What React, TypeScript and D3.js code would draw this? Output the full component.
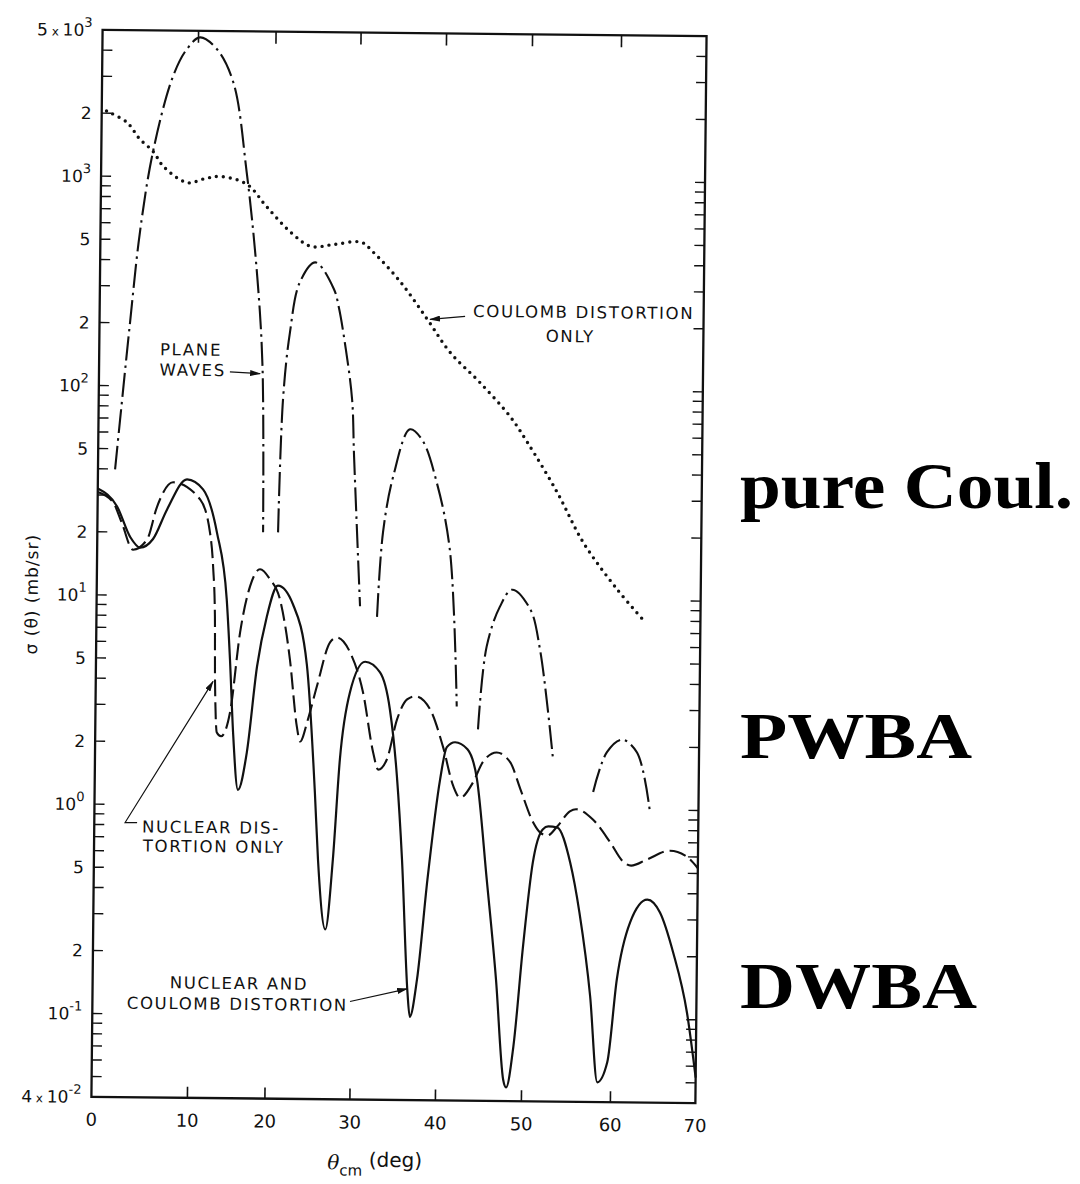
import React from "react";
import * as d3 from "d3";

// x axis ticks (degrees) and the y labels
const xTicks = [0, 10, 20, 30, 40, 50, 60, 70];
const yLabelValues = [5e3, 2e3, 1e3, 5e2, 2e2, 1e2, 50, 20, 10, 5, 2, 1, 0.5, 0.2, 0.1, 4e-2];
const yLabelTexts = ["5 x 10|3", "2", "10|3", "5", "2", "10|2", "5", "2", "10|1", "5", "2", "10|0", "5", "2", "10|-1", "4 x 10|-2"];

// [theta_cm (deg), sigma (mb/sr)]
const coulombOnly = [
  [0.5, 2050], [2.65, 1810], [4.0, 1510], [5.4, 1320], [6.5, 1120], [9.0, 940], [11.0, 985],
  [13.0, 1010], [16.45, 930], [19.0, 730], [22.0, 550], [24.4, 473], [27.1, 485], [30.3, 498],
  [31.7, 447], [34.95, 322], [38.1, 215], [40.8, 150], [44.3, 108], [47.85, 74.6], [49.9, 56.2],
  [53.3, 32.6], [56.3, 18.8], [60.15, 11.3], [63.25, 8.1]
];

// plane waves, drawn lobe by lobe (the zeros are cut off)
const planeLobe1 = [
  [1.78, 39.8], [2.25, 69], [3.18, 201], [4.11, 542], [5.39, 1322], [7.39, 3027], [8.8, 4083],
  [10.2, 4655], [12.4, 4093], [14.55, 2851], [16.4, 1061], [17.9, 338], [18.7, 126], [19.0, 20.3]
];
const planeLobe2 = [
  [20.85, 20.3], [21.27, 87.7], [22.0, 183], [23.1, 318], [24.9, 397], [27.1, 298], [27.7, 245],
  [28.6, 153], [29.4, 88], [29.7, 47], [30.58, 9.1]
];
const planeLobe3 = [
  [32.58, 8.1], [33.18, 20.6], [34.3, 38], [36.2, 64], [37.65, 57], [39.4, 35.8], [41.0, 17.2], [42.0, 3.05]
];
const planeLobe4 = [
  [44.5, 2.38], [45.4, 5.9], [46.9, 9.2], [48.3, 11.1], [50.4, 9.0], [51.55, 5.8], [53.15, 1.73]
];
const planeLobe5 = [[57.7, 1.21], [59.2, 1.88], [60.9, 2.16], [62.7, 1.88], [64.3, 0.975]];

const nuclearOnly = [
  [0, 31], [1.61, 27.7], [2.53, 22.2], [3.74, 16.5], [5.19, 18.5], [6.2, 26.6], [7.83, 34.8],
  [10.83, 28.9], [12.15, 20.1], [12.6, 13.8], [12.9, 7.98], [13.0, 3.91], [13.3, 2.23], [13.85, 2.14],
  [14.98, 2.79], [16.17, 6.73], [17.4, 11.2], [18.66, 13.5], [19.96, 12.1], [21.16, 9.7], [22.4, 5.03],
  [23.3, 2.4], [23.7, 2.04], [24.6, 2.61], [25.6, 3.74], [27.1, 6.09], [27.9, 6.43], [29.47, 5.47],
  [31.04, 3.52], [32.3, 1.82], [32.9, 1.51], [33.9, 1.69], [35.05, 2.63], [36.2, 3.28], [37.13, 3.4],
  [38.9, 2.95], [40.45, 1.96], [41.7, 1.27], [42.5, 1.12], [44.0, 1.33], [45.1, 1.66], [46.7, 1.85],
  [48.3, 1.66], [49.5, 1.24], [51.0, 0.86], [51.8, 0.77], [52.6, 0.746], [53.7, 0.825], [55.1, 0.975],
  [55.8, 1.0], [57.7, 0.895], [59.65, 0.7], [61.2, 0.565], [62.15, 0.541], [64.0, 0.58], [66.7, 0.64],
  [68.5, 0.608], [70, 0.53]
];

const nuclearCoulomb = [
  [0, 32.2], [2.03, 26.5], [3.42, 19.0], [4.47, 16.9], [5.81, 18.6], [7.24, 25.8], [9.29, 36.0],
  [11.2, 32.3], [13.05, 20.1], [14.4, 9.66], [14.9, 4.99], [15.4, 2.23], [16.1, 1.19], [17.2, 1.8],
  [18.4, 4.63], [19.6, 8.04], [20.9, 11.3], [22.7, 9.2], [24.4, 4.76], [25.5, 1.17], [25.95, 0.558],
  [26.9, 0.259], [27.7, 0.56], [28.4, 1.68], [29.5, 3.52], [31.24, 4.94], [33.0, 4.4], [34.2, 2.93],
  [35.1, 1.41], [35.8, 0.563], [36.6, 0.131], [36.9, 0.1], [37.7, 0.151], [38.8, 0.454], [40.15, 1.36],
  [40.9, 1.95], [41.85, 2.06], [43.3, 1.91], [44.45, 1.37], [45.7, 0.457], [46.9, 0.152], [47.85, 0.0507],
  [48.2, 0.0465], [49.0, 0.073], [50.0, 0.22], [51.0, 0.553], [52.1, 0.8], [52.7, 0.825], [53.7, 0.816],
  [55.2, 0.556], [56.3, 0.321], [57.6, 0.128], [58.5, 0.0497], [59.6, 0.062], [60.6, 0.154], [62.1, 0.29],
  [64.1, 0.373], [65.6, 0.324], [67.2, 0.209], [68.9, 0.108], [70, 0.053]
];

const sideLabels = ["pure Coul.", "PWBA", "DWBA"];

function App() {
  const w = 1080,
    h = 1184,
    frame = { left: 97, right: 701, top: 33, bottom: 1100 },
    ink = "#111";

  // hand drafted axis: the 0-10 interval is drawn wider than the rest
  const x = d3.scaleLinear()
    .domain(xTicks)
    .range([97, 193, 270.5, 355.5, 441, 527, 616, 701]);

  const y = d3.scaleLog()
    .domain([4e-2, 5e3])
    .range([frame.bottom, frame.top]);

  const line = d3.line<number[]>()
    .x(d => x(d[0]))
    .y(d => y(d[1]))
    .curve(d3.curveMonotoneX);

  const smooth = d3.line<number[]>()
    .x(d => x(d[0]))
    .y(d => y(d[1]))
    .curve(d3.curveCatmullRom.alpha(0.5));

  const minorTicks = d3.range(-2, 4)
    .flatMap(e => d3.range(1, 10).map(k => k * Math.pow(10, e)))
    .filter(v => v > 0.0401 && v < 4999);

  const yTickMarks = minorTicks.map((v, i) => (
    <g key={i}>
      <line x1={frame.left} x2={frame.left + 10} y1={y(v)} y2={y(v)} stroke={ink} strokeWidth={1.4} />
      <line x1={frame.right} x2={frame.right - 10} y1={y(v)} y2={y(v)} stroke={ink} strokeWidth={1.4} />
    </g>
  ));

  const xTickMarks = xTicks.slice(1, -1).map((t, i) => (
    <g key={i}>
      <line x1={x(t)} x2={x(t)} y1={frame.bottom} y2={frame.bottom - 11} stroke={ink} strokeWidth={1.6} />
      <line x1={x(t)} x2={x(t)} y1={frame.top} y2={frame.top + 12} stroke={ink} strokeWidth={1.6} />
    </g>
  ));

  const xLabels = xTicks.map((t, i) => (
    <text key={i} x={x(t)} y={frame.bottom + 29} textAnchor="middle" fontSize={18} fill={ink}>
      {t}
    </text>
  ));

  const yLabels = yLabelValues.map((v, i) => {
    const [base, sup] = yLabelTexts[i].split("|");
    const parts = base.split(" x ");
    return (
      <text key={i} x={frame.left - 10} y={y(v)} dy="0.36em" textAnchor="end" fontSize={17} fill={ink}>
        {parts.length > 1 ? (
          <>
            <tspan>{parts[0]}</tspan>
            <tspan fontSize={12}>{" x "}</tspan>
            <tspan>{parts[1]}</tspan>
          </>
        ) : (
          <tspan>{base}</tspan>
        )}
        {sup !== undefined && <tspan fontSize={13} dy={-9}>{sup}</tspan>}
      </text>
    );
  });

  const lobes = [planeLobe1, planeLobe2, planeLobe3, planeLobe4, planeLobe5].map((d, i) => (
    <path key={i} d={smooth(d) || ""} fill="none" stroke={ink} strokeWidth={2.1} strokeDasharray="24 5 2.5 5" />
  ));

  const arrow = (pts: number[][], key: string) => (
    <path
      key={key}
      d={d3.line<number[]>().x(d => x(d[0])).y(d => y(d[1]))(pts) || ""}
      fill="none"
      stroke={ink}
      strokeWidth={1.2}
      markerEnd="url(#head)"
    />
  );

  const note = { fontSize: 16.5, letterSpacing: 1.7, fill: ink };

  return (
    <svg width={w} height={h} style={{ position: "absolute", left: 0, top: 0, background: "#fff" }}
      fontFamily="'DejaVu Sans', sans-serif">
      <defs>
        <marker id="head" markerUnits="userSpaceOnUse" markerWidth={11} markerHeight={6}
          refX={10} refY={3} orient="auto">
          <path d="M0,0 L11,3 L0,6 z" fill={ink} />
        </marker>
      </defs>
      <rect width={w} height={h} fill="#fff" />
      <g transform="rotate(0.6 400 565)">
        <rect x={frame.left} y={frame.top} width={frame.right - frame.left} height={frame.bottom - frame.top}
          fill="none" stroke={ink} strokeWidth={2.3} />
        {yTickMarks}
        {xTickMarks}
        {xLabels}
        {yLabels}

        <text x={381} y={1170} textAnchor="middle" fontSize={20} fill={ink}>
          <tspan fontStyle="italic" fontFamily="'DejaVu Serif', serif">θ</tspan>
          <tspan fontSize={15} dy={6}>cm</tspan>
          <tspan dy={-9}> (deg)</tspan>
        </text>
        <text transform="translate(38,598) rotate(-90)" textAnchor="middle" fontSize={17} fill={ink}
          letterSpacing={1}>
          σ (θ)  (mb/sr)
        </text>

        <path d={smooth(coulombOnly) || ""} fill="none" stroke={ink} strokeWidth={3.4}
          strokeLinecap="round" strokeDasharray="0 7" />
        {lobes}
        <path d={line(nuclearOnly) || ""} fill="none" stroke={ink} strokeWidth={2.1} strokeDasharray="17 6" />
        <path d={line(nuclearCoulomb) || ""} fill="none" stroke={ink} strokeWidth={2.2} />

        {/* annotations */}
        <text x={x(6.33)} y={y(150)} dy="0.36em" {...note}>PLANE</text>
        <text x={x(6.31)} y={y(120)} dy="0.36em" {...note}>WAVES</text>
        {arrow([[14.5, 118], [18.4, 116]], "pw")}

        <text x={x(43.42)} y={y(237)} dy="0.36em" {...note}>COULOMB DISTORTION</text>
        <text x={x(54.6)} y={y(181.6)} dy="0.36em" textAnchor="middle" {...note}>ONLY</text>
        {arrow([[42.5, 223], [38.42, 215]], "co")}

        <text x={x(4.98)} y={y(0.787)} dy="0.36em" {...note}>NUCLEAR DIS-</text>
        <text x={x(5.09)} y={y(0.637)} dy="0.36em" {...note}>TORTION ONLY</text>
        {arrow([[4.46, 0.821], [3.21, 0.82], [12.75, 3.91]], "nd")}

        <text x={x(16.5)} y={y(0.142)} dy="0.36em" textAnchor="middle" {...note}>NUCLEAR AND</text>
        <text x={x(16.32)} y={y(0.113)} dy="0.36em" textAnchor="middle" {...note}>COULOMB DISTORTION</text>
        {arrow([[29.89, 0.1175], [36.56, 0.136]], "nc")}
      </g>

      {sideLabels.map((s, i) => (
        <text key={i} x={740} y={508 + i * 250} fontFamily="'Liberation Serif', serif" fontWeight="bold"
          fontSize={66} fill="#000" textLength={[333, 232, 237][i]} lengthAdjust="spacingAndGlyphs">
          {s}
        </text>
      ))}
    </svg>
  );
}

export default App;
